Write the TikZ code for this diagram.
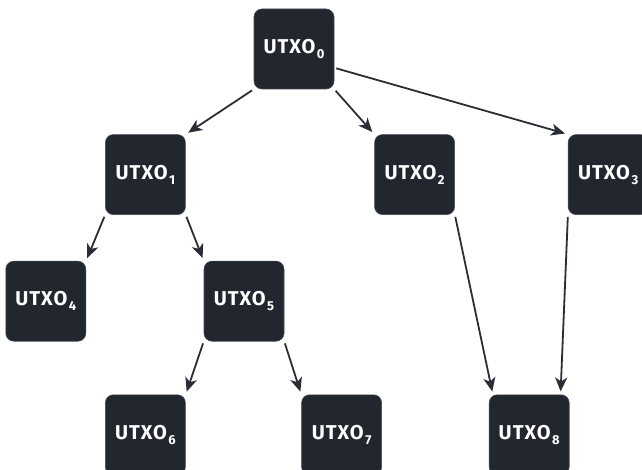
\documentclass[tikz,border=0pt]{standalone}
\usepackage{fontspec}
\setmainfont{Fira Sans}
\newfontfamily\boxfont[LetterSpace=5]{Fira Sans}
\usepackage{xcolor}
\usepackage{tikz}
\usetikzlibrary{positioning,arrows.meta}

\definecolor{boxdark}{HTML}{22262F}
\definecolor{linedark}{HTML}{2A2D36}
\newcommand{\utxo}[1]{UTXO\hspace{1.5pt}\raisebox{-5pt}{\fontsize{13}{13}\selectfont #1}}

\begin{document}
\begin{tikzpicture}[x=1pt, y=1pt]
		% Define the style for the utxo boxes and arrows
		\tikzstyle{utxobox}=[rectangle, rounded corners=8pt, fill=boxdark, draw=boxdark!85!white, line width=0.6pt, minimum size=80pt, inner sep=0pt, text=white, font=\boxfont\fontsize{20}{20}\selectfont\bfseries, text centered]
		\tikzstyle{spend}=[draw=linedark, line width=1.8pt, -{Stealth[length=14pt, width=12pt, inset=4pt]}, shorten <=2pt, shorten >=3pt]

		\useasboundingbox (0,0) rectangle (642,-470);

		% Define nodes
		\node (utxo0) [utxobox] at (294,-49) {\utxo{0}};
		\node (utxo1) [utxobox, below left=45pt and 68pt of utxo0] {\utxo{1}};
		\node (utxo2) [utxobox, below right=45pt and 40pt of utxo0] {\utxo{2}};
		\node (utxo3) [utxobox, right=113pt of utxo2] {\utxo{3}};
		\node (utxo4) [utxobox, below left=46pt and 19pt of utxo1] {\utxo{4}};
		\node (utxo5) [utxobox, below right=46pt and 18pt of utxo1] {\utxo{5}};
		\node (utxo6) [utxobox, below left=53pt and 18pt of utxo5] {\utxo{6}};
		\node (utxo7) [utxobox, below right=53pt and 17pt of utxo5] {\utxo{7}};
		\node (utxo8) [utxobox, right=107pt of utxo7] {\utxo{8}};

		% Define edges
		\draw[spend] (utxo0.south west) -- (utxo1.north east);
		\draw[spend] (utxo0.south east) -- (utxo2.north west);
		\draw[spend] (utxo0.-25) -- (utxo3.north west);
		\draw[spend] (utxo1.south west) -- (utxo4.north east);
		\draw[spend] (utxo1.south east) -- (utxo5.north west);
		\draw[spend] (utxo5.south west) -- (utxo6.north east);
		\draw[spend] (utxo5.south east) -- (utxo7.north west);
		\draw[spend] (utxo2.south east) -- ([xshift=4pt]utxo8.north west);
		\draw[spend] (utxo3.south west) -- ([xshift=-9pt]utxo8.north east);
	\end{tikzpicture}
\end{document}
